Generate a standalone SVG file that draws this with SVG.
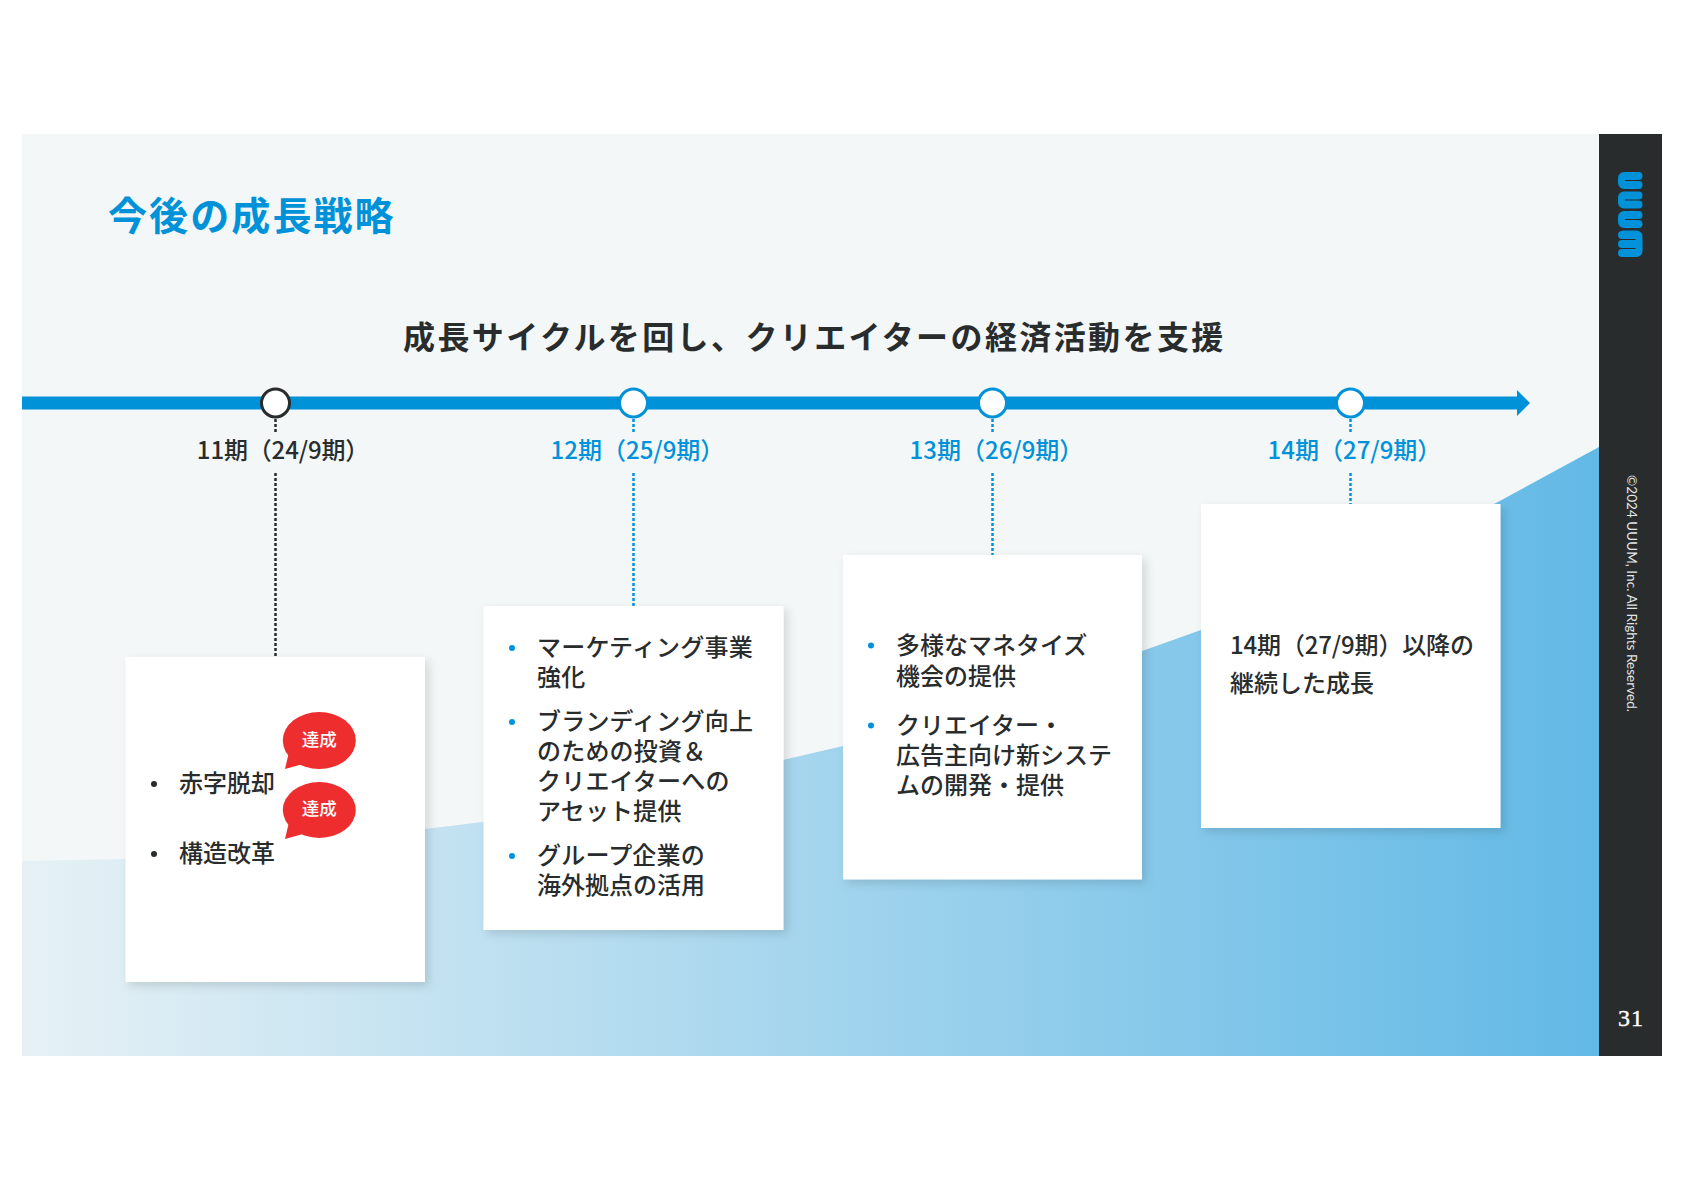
<svg xmlns="http://www.w3.org/2000/svg" width="1684" height="1190" viewBox="0 0 1684 1190">
<defs>
<linearGradient id="g" x1="22" y1="0" x2="1599" y2="0" gradientUnits="userSpaceOnUse"><stop offset="0" stop-color="#e6f1f5"/><stop offset="1" stop-color="#62b9e6"/></linearGradient>
<filter id="s" x="-10%" y="-10%" width="120%" height="120%"><feDropShadow dx="4" dy="4" stdDeviation="5" flood-color="#000" flood-opacity="0.13"/></filter>
</defs>
<style>
text{font-family:"Noto Sans CJK JP","Noto Sans",sans-serif;font-weight:500;fill:#292c2d;font-size:24px}
.lab{font-size:24px;text-anchor:middle}
.blue{fill:#0092d9}
.card{fill:#fff;filter:url(#s)}
.dot{stroke-dasharray:3 2;stroke-width:2.500;fill:none}
.ms{fill:#fff;stroke-width:3}
.bub{fill:#ee2d2f}
.bt{fill:#fff;font-size:17.500px;text-anchor:middle}
.sp{letter-spacing:0.200px}
</style>
<rect width="1684" height="1190" fill="#fff"/>
<rect x="22" y="134" width="1577" height="922" fill="#f3f7f7"/>
<polygon points="22,861 126,859 425,829 483,822 783,760 843,746 1142,651 1201,630 1496,503 1599,447 1599,1056 22,1056" fill="url(#g)"/>
<rect x="1599" y="134" width="63" height="922" fill="#292c2d"/>
<g id="logo" fill="#0092d9">
<path d="M1624 172h14.500a4 4 0 0 1 0 8h-13.500v1h13.500a4 4 0 0 1 0 8h-14.500a6 6 0 0 1 -6 -6v-5a6 6 0 0 1 6 -6z"/>
<path d="M1624 191.500h14.500a4 4 0 0 1 0 8h-13.500v1h13.500a4 4 0 0 1 0 8h-14.500a6 6 0 0 1 -6 -6v-5a6 6 0 0 1 6 -6z"/>
<path d="M1624 211h14.500a4 4 0 0 1 0 8h-13.500v1h13.500a4 4 0 0 1 0 8h-14.500a6 6 0 0 1 -6 -6v-5a6 6 0 0 1 6 -6z"/>
<path d="M1622 230.500h14.500a6 6 0 0 1 6 6v14.500a6 6 0 0 1 -6 6h-14.500a4 4 0 0 1 0 -8h13.500v-1h-13.500a4 4 0 0 1 0 -8h13.500v-1h-13.500a4 4 0 0 1 0 -8z"/>
</g>
<text x="0" y="0" transform="translate(1627,475) rotate(90)" style="fill:#e4e6e6;font-size:13.500px;font-weight:400;font-family:'Lato','Noto Sans',sans-serif" textLength="237">©2024 UUUM, Inc. All Rights Reserved.</text>
<text x="1631" y="1026" style="fill:#fff;stroke:#fff;stroke-width:0.400;font-size:24px;font-family:'Liberation Serif',serif;font-weight:400;text-anchor:middle" letter-spacing="1">31</text>
<text x="108" y="230" class="blue" style="font-size:39px;font-weight:700;letter-spacing:2.100px">今後の成長戦略</text>
<text x="403" y="349" style="font-size:32px;font-weight:700;letter-spacing:2.400px">成長サイクルを回し、クリエイターの経済活動を支援</text>
<g id="connectors">
<path class="dot" stroke="#292c2d" d="M275.500 419V432M275.500 473V657"/>
<path class="dot" stroke="#0092d9" d="M633.500 419V432M633.500 473V606"/>
<path class="dot" stroke="#0092d9" d="M992.500 419V432M992.500 473V555"/>
<path class="dot" stroke="#0092d9" d="M1350.500 419V432M1350.500 473V504"/>
<polygon fill="#0092d9" points="22,396.500 1517,396.500 1517,390 1530,403 1517,416 1517,409.500 22,409.500"/>
</g>
<g id="ms1"><circle class="ms" cx="275.500" cy="403" r="14" stroke="#292c2d"/><text class="lab" x="283" y="459" style="letter-spacing:-0.150px">11期（24/9期）</text></g>
<g id="ms2"><circle class="ms" cx="633.500" cy="403" r="14" stroke="#0092d9"/><text class="lab blue" x="637.500" y="459">12期（25/9期）</text></g>
<g id="ms3"><circle class="ms" cx="992.500" cy="403" r="14" stroke="#0092d9"/><text class="lab blue" x="996.500" y="459">13期（26/9期）</text></g>
<g id="ms4"><circle class="ms" cx="1350.500" cy="403" r="14" stroke="#0092d9"/><text class="lab blue" x="1354.500" y="459">14期（27/9期）</text></g>
<g id="card1">
<rect class="card" x="125.500" y="657" width="299.500" height="325"/>
<circle cx="154" cy="784" r="3" fill="#292c2d"/><text x="179" y="792">赤字脱却</text>
<circle cx="154" cy="854" r="3" fill="#292c2d"/><text x="179" y="862">構造改革</text>
<g id="b1"><ellipse class="bub" cx="319.300" cy="740.500" rx="36.500" ry="28.500"/><polygon class="bub" points="289,752 285,769 303,764"/><text class="bt" x="319.300" y="746">達成</text></g>
<g id="b2"><ellipse class="bub" cx="319.300" cy="810" rx="36.500" ry="28"/><polygon class="bub" points="289,822 285,839 303,834"/><text class="bt" x="319.300" y="815">達成</text></g>
</g>
<g id="card2">
<rect class="card" x="483.500" y="606" width="300" height="324"/>
<g fill="#0092d9"><circle cx="512" cy="648" r="3"/><circle cx="512" cy="722" r="3"/><circle cx="512" cy="856" r="3"/></g>
<text class="sp" x="537" y="656">マーケティング事業</text><text class="sp" x="537" y="686">強化</text>
<text class="sp" x="537" y="730">ブランディング向上</text><text class="sp" x="537" y="760">のための投資＆</text><text class="sp" x="537" y="790">クリエイターへの</text><text class="sp" x="537" y="820">アセット提供</text>
<text class="sp" x="537" y="864">グループ企業の</text><text x="537" y="894">海外拠点の活用</text>
</g>
<g id="card3">
<rect class="card" x="843" y="555" width="299" height="324.500"/>
<g fill="#0092d9"><circle cx="871" cy="645.500" r="3"/><circle cx="871" cy="725.500" r="3"/></g>
<text x="896" y="654">多様なマネタイズ</text><text x="896" y="685">機会の提供</text>
<text x="896" y="734">クリエイター・</text><text x="896" y="764">広告主向け新システ</text><text x="896" y="794">ムの開発・提供</text>
</g>
<g id="card4">
<rect class="card" x="1201" y="504" width="299.500" height="324"/>
<text x="1230" y="654" style="letter-spacing:-0.150px">14期（27/9期）以降の</text><text x="1230" y="692">継続した成長</text>
</g>
</svg>
